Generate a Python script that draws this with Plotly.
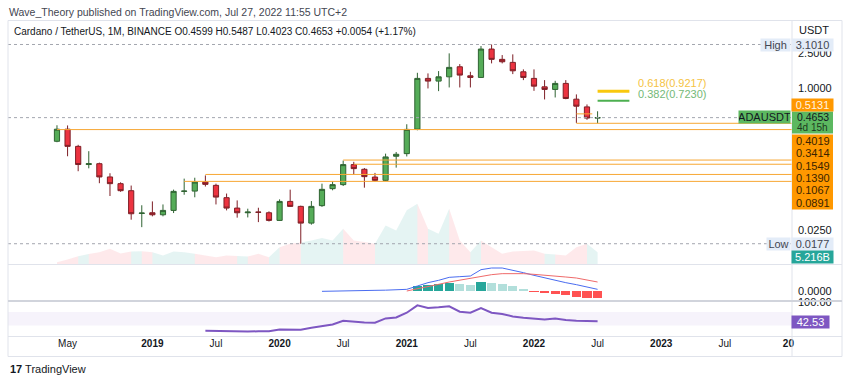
import plotly.graph_objects as go

W, H = 850, 382
FONT = "Liberation Sans, Arial, sans-serif"

# ---------------- data ----------------
months = ["2018-04", "2018-05", "2018-06", "2018-07", "2018-08", "2018-09", "2018-10", "2018-11", "2018-12",
          "2019-01", "2019-02", "2019-03", "2019-04", "2019-05", "2019-06", "2019-07", "2019-08", "2019-09",
          "2019-10", "2019-11", "2019-12", "2020-01", "2020-02", "2020-03", "2020-04", "2020-05", "2020-06",
          "2020-07", "2020-08", "2020-09", "2020-10", "2020-11", "2020-12", "2021-01", "2021-02", "2021-03",
          "2021-04", "2021-05", "2021-06", "2021-07", "2021-08", "2021-09", "2021-10", "2021-11", "2021-12",
          "2022-01", "2022-02", "2022-03", "2022-04", "2022-05", "2022-06", "2022-07"]

opens = [0.252, 0.345, 0.221, 0.138, 0.141, 0.100, 0.084, 0.070, 0.0388, 0.0395,
         0.0375, 0.042, 0.0688, 0.0693, 0.0876, 0.0804, 0.0584, 0.0446, 0.0395, 0.0402,
         0.0395, 0.0324, 0.053, 0.0466, 0.0302, 0.0475, 0.0738, 0.0819, 0.1377, 0.122,
         0.0997, 0.0915, 0.171, 0.183, 0.345, 1.287, 1.20, 1.341, 1.74, 1.377,
         1.32, 2.755, 2.108, 1.95, 1.527, 1.287, 1.034, 0.967, 1.13, 0.751,
         0.615, 0.4599]
highs = [0.382, 0.38, 0.23, 0.195, 0.145, 0.110, 0.087, 0.080, 0.048, 0.053,
         0.049, 0.072, 0.0957, 0.098, 0.104, 0.084, 0.065, 0.0544, 0.0439, 0.045,
         0.041, 0.0559, 0.0719, 0.0475, 0.0535, 0.084, 0.0892, 0.1528, 0.148, 0.126,
         0.111, 0.183, 0.191, 0.392, 1.488, 1.465, 1.556, 2.464, 1.866, 1.527,
         2.979, 3.101, 2.357, 2.40, 1.626, 1.626, 1.231, 1.209, 1.231, 0.85,
         0.655, 0.5487]
lows = [0.246, 0.171, 0.116, 0.125, 0.085, 0.061, 0.068, 0.033, 0.0272, 0.036,
        0.036, 0.0392, 0.063, 0.059, 0.078, 0.049, 0.042, 0.0348, 0.035, 0.031,
        0.0315, 0.032, 0.046, 0.0177, 0.029, 0.046, 0.0707, 0.079, 0.1065, 0.0757,
        0.089, 0.09, 0.1273, 0.17, 0.335, 0.992, 0.925, 1.018, 1.018, 1.018,
        1.30, 1.90, 1.90, 1.439, 1.231, 0.932, 0.746, 0.785, 0.75, 0.406,
        0.44, 0.4023]
closes = [0.345, 0.221, 0.138, 0.141, 0.100, 0.084, 0.070, 0.0385, 0.0392, 0.0375,
          0.042, 0.0688, 0.0693, 0.0876, 0.0825, 0.0593, 0.0446, 0.0395, 0.0402, 0.0400,
          0.0324, 0.053, 0.0466, 0.0302, 0.0466, 0.0725, 0.0819, 0.1377, 0.124, 0.1008,
          0.0915, 0.168, 0.18, 0.343, 1.287, 1.20, 1.341, 1.713, 1.402, 1.32,
          2.755, 2.108, 1.981, 1.567, 1.32, 1.053, 0.967, 1.13, 0.765, 0.626,
          0.4599, 0.4653]
volumes_b = [1.0, 2.1, 3.5, 4.4, 5.2, 6.7, 4.7, 5.5, 5.6, 5.2,
             3.8, 5.5, 5.2, 4.5, 3.8, 3.1, 3.8, 3.6, 3.4, 4.5,
             3.1, 7.3, 8.8, 9.3, 10.2, 11.2, 10.2, 15.1, 10.2, 9.5,
             8.8, 16.5, 14.4, 22.9, 25.7, 15.1, 13.0, 23.6, 10.2, 5.2,
             10.2, 7.3, 4.5, 5.5, 5.7, 5.9, 4.5, 4.2, 3.8, 7.3,
             8.8, 5.216]

macd_start = 25
macd_vals = [-0.01, 0.0, 0.005, 0.01, 0.015, 0.02, 0.025, 0.035, 0.05, 0.15, 0.25, 0.32, 0.41, 0.43,
             0.45, 0.64, 0.69, 0.69, 0.63, 0.55, 0.47, 0.39, 0.32, 0.25, 0.19, 0.12, 0.05]
signal_start = 33
signal_vals = [0.00, 0.06, 0.13, 0.20, 0.27, 0.33, 0.39, 0.45, 0.49, 0.52, 0.53, 0.52, 0.50, 0.48,
               0.45, 0.42, 0.39, 0.33, 0.27]
hist_start = 34
hist_vals = [0.14, 0.17, 0.20, 0.23, 0.21, 0.19, 0.27, 0.25, 0.21, 0.15, 0.07, -0.03, -0.07, -0.08,
             -0.13, -0.17, -0.20, -0.21]
rsi_start = 14
rsi_vals = [14, 13, 12, 12, 12, 12.5, 13, 18, 17, 17, 23, 29, 33, 44, 41, 39, 38, 51, 54,
            68, 90, 82, 84, 87, 71, 68, 82, 68, 64, 57, 53, 50, 48, 51, 46, 44, 43, 42.53]

level_prices = [0.3414, 0.4019, 0.5131, 0.1549, 0.1390, 0.1067, 0.0891]
level_from = [0, 49, 49, 27, 28, 14, 12]
level_to = [None, None, 50.5, None, None, None, None]

fib_labels = ["0.618(0.9217)", "0.382(0.7230)"]
fib_prices = [0.9217, 0.7230]
fib_colors = ["#f9c80e", "#4caf50"]
fib_text_colors = ["#f5c343", "#74b977"]

high_price, low_price, last_price = 3.1010, 0.0177, 0.4653

tick_idx = [1, 9, 15, 21, 27, 33, 39, 45, 51, 57, 63, 69]
tick_text = ["May", "<b>2019</b>", "Jul", "<b>2020</b>", "Jul", "<b>2021</b>", "Jul", "<b>2022</b>",
             "Jul", "<b>2023</b>", "Jul", "<b>20</b>"]

# ---------------- layout helpers ----------------
XR = [-4.62, 69.34]
XDOM = [8 / W, 792 / W]


def py(p):
    return 1 - p / H


def pxl(p):
    return p / W


xs = list(range(len(months)))
fig = go.Figure()

# volume area (base axis, behind price)
g_x, g_y, r_x, r_y = [], [], [], []
for i in range(1, len(xs)):
    px_ = [i - 1, i - 1, i, i, i - 1, None]
    py_ = [0, volumes_b[i - 1], volumes_b[i], 0, 0, None]
    if closes[i] >= opens[i]:
        g_x += px_; g_y += py_
    else:
        r_x += px_; r_y += py_
fig.add_trace(go.Scatter(x=g_x, y=g_y, fill="toself", mode="lines", line=dict(width=0),
                         fillcolor="rgba(38,166,154,0.12)", xaxis="x", yaxis="y", hoverinfo="skip"))
fig.add_trace(go.Scatter(x=r_x, y=r_y, fill="toself", mode="lines", line=dict(width=0),
                         fillcolor="rgba(242,54,69,0.11)", xaxis="x", yaxis="y", hoverinfo="skip"))

# dotted high / low / last lines
for p in [high_price, low_price, last_price]:
    fig.add_trace(go.Scatter(x=XR, y=[p, p], mode="lines", line=dict(color="#a3a6af", width=1, dash="dot"),
                             xaxis="x", yaxis="y4", hoverinfo="skip"))

# orange levels
for p, a, b in zip(level_prices, level_from, level_to):
    fig.add_trace(go.Scatter(x=[a, b if b is not None else XR[1]], y=[p, p], mode="lines",
                             line=dict(color="#f7a733", width=1), xaxis="x", yaxis="y4", hoverinfo="skip"))

# fib lines
for p, c, w in zip(fib_prices, fib_colors, [3, 2]):
    fig.add_trace(go.Scatter(x=[51, 54], y=[p, p], mode="lines", line=dict(color=c, width=w),
                             xaxis="x", yaxis="y4", hoverinfo="skip"))

# candles
fig.add_trace(go.Candlestick(x=xs, open=opens, high=highs, low=lows, close=closes, text=months,
                             increasing=dict(fillcolor="#55ac58", line=dict(color="#2f6332", width=1)),
                             decreasing=dict(fillcolor="#ec3340", line=dict(color="#7e1f26", width=1)),
                             whiskerwidth=0, xaxis="x", yaxis="y4"))

# MACD
hist_x = list(range(hist_start, hist_start + len(hist_vals)))
hist_colors = []
for k, v in enumerate(hist_vals):
    prev = hist_vals[k - 1] if k > 0 else None
    if v >= 0:
        hist_colors.append("#26a69a" if prev is None or v > prev else "#b2dfdb")
    else:
        hist_colors.append("#ff5252" if prev is None or v < prev else "#ffcdd2")
fig.add_trace(go.Bar(x=hist_x, y=hist_vals, marker=dict(color=hist_colors, line=dict(width=0)),
                     width=0.86, xaxis="x2", yaxis="y2", hoverinfo="skip"))
fig.add_trace(go.Scatter(x=list(range(macd_start, macd_start + len(macd_vals))), y=macd_vals, mode="lines",
                         line=dict(color="#4a6cf0", width=1), xaxis="x2", yaxis="y2"))
fig.add_trace(go.Scatter(x=list(range(signal_start, signal_start + len(signal_vals))), y=signal_vals,
                         mode="lines", line=dict(color="#ef6a6a", width=1), xaxis="x2", yaxis="y2"))

# RSI
fig.add_trace(go.Scatter(x=list(range(rsi_start, rsi_start + len(rsi_vals))), y=rsi_vals, mode="lines",
                         line=dict(color="#7e57c2", width=2), xaxis="x3", yaxis="y3"))

axis_common = dict(showgrid=False, zeroline=False, showline=False, fixedrange=True, automargin=False)

shapes = [
    # RSI band
    dict(type="rect", xref="paper", yref="y3", x0=XDOM[0], x1=XDOM[1], y0=30, y1=70,
         fillcolor="rgba(126,87,194,0.07)", line=dict(width=0), layer="below"),
    # borders / separators
    dict(type="rect", xref="paper", yref="paper", x0=pxl(8), x1=pxl(842), y0=py(356.5), y1=py(20.5),
         line=dict(color="#e0e3eb", width=1)),
    dict(type="line", xref="paper", yref="paper", x0=pxl(792), x1=pxl(792), y0=py(356.5), y1=py(20.5),
         line=dict(color="#e0e3eb", width=1)),
    dict(type="line", xref="paper", yref="paper", x0=pxl(8), x1=pxl(842), y0=py(264.5), y1=py(264.5),
         line=dict(color="#e0e3eb", width=1)),
    dict(type="line", xref="paper", yref="paper", x0=pxl(8), x1=pxl(842), y0=py(301), y1=py(301),
         line=dict(color="#d1d4dc", width=2)),
    dict(type="line", xref="paper", yref="paper", x0=pxl(8), x1=pxl(842), y0=py(336.5), y1=py(336.5),
         line=dict(color="#e0e3eb", width=1)),
    # label boxes
    dict(type="rect", xref="paper", yref="paper", x0=pxl(792), x1=pxl(833), y0=py(133.5), y1=py(111.5),
         fillcolor="#5cb860", line=dict(width=0)),
    dict(type="rect", xref="paper", yref="paper", x0=pxl(792), x1=pxl(833), y0=py(209.5), y1=py(134.5),
         fillcolor="#ff9800", line=dict(width=0)),
]


def badge(text, x0, x1, yc, bg, fg, h=12):
    return dict(text=text, xref="paper", yref="paper", x=pxl((x0 + x1) / 2), y=py(yc), xanchor="center",
                yanchor="middle", showarrow=False, bgcolor=bg, width=x1 - x0, height=h, borderpad=0,
                font=dict(size=11, color=fg, family=FONT))


def label(text, x, yc, color, size=11, anchor="left"):
    return dict(text=text, xref="paper", yref="paper", x=pxl(x), y=py(yc), xanchor=anchor, yanchor="middle",
                showarrow=False, font=dict(size=size, color=color, family=FONT))


ann = [
    label("Wave_Theory published on TradingView.com, Jul 27, 2022 11:55 UTC+2", 7, 12, "#434651", 10.5),
    label("Cardano / TetherUS, 1M, BINANCE O0.4599 H0.5487 L0.4023 C0.4653 +0.0054 (+1.17%)",
          12, 32, "#131722", 10),
    label("USDT", 797, 30, "#131722", 11),
    badge("High", 761, 790, 45, "#e3ecf8", "#434651"),
    badge("3.1010", 792, 833, 45, "#e3ecf8", "#434651"),
    badge("0.5131", 792, 833, 105, "#ff9800", "#fff3e0"),
    badge("ADAUSDT", 739, 790, 117, "#5cb860", "#131722"),
    label("0.4653", 812.5, 117, "#131722", 10.5, "center"),
    label("4d 15h", 812.5, 127.5, "#1e3a20", 10, "center"),
    badge("Low", 767, 790, 243.5, "#e3ecf8", "#434651"),
    badge("0.0177", 792, 833, 243.5, "#e3ecf8", "#434651"),
    badge("5.216B", 792, 833, 257, "#26a69a", "#ffffff"),
    badge("42.53", 792, 829, 321.5, "#7e57c2", "#ffffff"),
    label("<b>17</b> TradingView", 8, 369, "#131722", 11),
]
for t, yc in zip(["0.4019", "0.3414", "0.1549", "0.1390", "0.1067", "0.0891"],
                 [140.5, 153, 165.5, 178, 190.5, 203]):
    ann.append(label(t, 812.5, yc, "#3a2400", 11, "center"))
for t, c, yc in zip(fib_labels, fib_text_colors, [83.5, 94]):
    ann.append(label(t, 636, yc, c, 11))

fig.update_layout(
    width=W, height=H, margin=dict(l=0, r=0, t=0, b=0, pad=0), paper_bgcolor="white", plot_bgcolor="white",
    showlegend=False, font=dict(family=FONT, color="#131722"), bargap=0,
    xaxis=dict(domain=XDOM, range=XR, anchor="y", showticklabels=False, rangeslider=dict(visible=False),
               **axis_common),
    xaxis2=dict(domain=XDOM, range=XR, anchor="y2", matches="x", showticklabels=False, **axis_common),
    xaxis3=dict(domain=XDOM, range=XR, anchor="y3", matches="x", tickmode="array", tickvals=tick_idx,
                ticktext=tick_text, ticks="", tickfont=dict(size=10, color="#131722", family=FONT),
                **axis_common),
    yaxis=dict(domain=[py(264.5), py(21)], range=[0, 103], showticklabels=False, **axis_common),
    yaxis4=dict(overlaying="y", anchor="x", side="right", type="log", range=[-1.986, 0.756],
                tickmode="array", tickvals=[2.5, 1.0, 0.025], ticktext=["2.5000", "1.0000", "0.0250"],
                ticks="", ticklabelstandoff=5, tickfont=dict(size=11, color="#131722", family=FONT),
                **axis_common),
    yaxis2=dict(domain=[py(300), py(265)], range=[-0.27, 0.78], anchor="x2", side="right",
                tickmode="array", tickvals=[0], ticktext=["0.0000"], ticks="", ticklabelstandoff=5,
                tickfont=dict(size=11, color="#131722", family=FONT), **axis_common),
    yaxis3=dict(domain=[py(336), py(302)], range=[-1.5, 100], anchor="x3", side="right",
                tickmode="array", tickvals=[100], ticktext=["100.00"], ticks="", ticklabelstandoff=5,
                tickfont=dict(size=11, color="#131722", family=FONT), **axis_common),
    shapes=shapes, annotations=ann,
)

fig.write_html("out.html", config={"displayModeBar": False, "staticPlot": True},
               post_script="document.body.style.margin='0';document.body.style.overflow='hidden';")
